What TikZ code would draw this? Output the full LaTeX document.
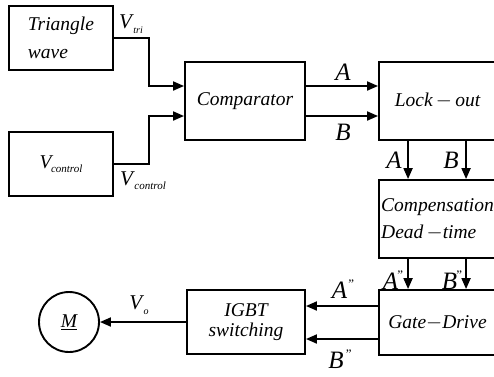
\documentclass[tikz,border=0pt]{standalone}
\usepackage{fontspec}
\setmainfont{Liberation Serif}
\usetikzlibrary{arrows.meta,calc}

\newcommand{\vsub}[2][11]{\textit{V}\kern-0.5pt\raisebox{-0.45ex}{\fontsize{#1}{#1}\selectfont\textit{#2}}}
\newcommand{\dq}{\raisebox{0.9ex}{\fontsize{13}{13}\selectfont\upshape"}}

\tikzset{
  blk/.style={draw, line width=1.9pt, inner sep=1pt,
    font=\fontsize{19.5}{22}\selectfont\itshape},
  sig/.style={line width=1.9pt, -{Triangle[length=11pt,width=9pt]}},
  lbl/.style={inner sep=0pt, font=\fontsize{25}{25}\selectfont\itshape},
  vlbl/.style={inner sep=0pt, font=\fontsize{21}{21}\selectfont},
}

\begin{document}
\begin{tikzpicture}[x=1pt,y=-1pt]
  \useasboundingbox (0,0) rectangle (494,376);
  \clip (0,0) rectangle (494,376);

  % blocks
  \node[blk, minimum width=104, minimum height=64, align=left] (tri) at (61,38)
    {Triangle\\[6pt]wave};
  \node[blk, minimum width=104, minimum height=64] (ctrl) at (61,164)
    {\vsub{control}};
  \node[blk, minimum width=120, minimum height=78] (comp) at (245,101) {Comparator};
  \node[blk, minimum width=117, minimum height=78] (lock) at (437.5,101) {Lock\,$-$\,out};
  \node[blk, minimum width=117, minimum height=78, align=left] (dead) at (437.5,219)
    {Compensation\\[5pt]Dead\,$-$time};
  \node[blk, minimum width=117, minimum height=65] (gate) at (437.5,322.5) {Gate$-$Drive};
  \node[blk, minimum width=118, minimum height=64, align=center] (igbt) at (246,322)
    {IGBT\\[-2pt]switching};
  \node[blk, circle, minimum size=60] (motor) at (69,322) {\underline{M}};

  % connectors
  \draw[sig] (tri.east) -- ++(35,0) |- ($(comp.west)+(0,-15)$);
  \draw[sig] (ctrl.east) -- ++(35,0) |- ($(comp.west)+(0,15)$);
  \draw[sig] ($(comp.east)+(0,-15)$) -- ($(lock.west)+(0,-15)$);
  \draw[sig] ($(comp.east)+(0,15)$) -- ($(lock.west)+(0,15)$);
  \draw[sig] ($(lock.south west)+(30,0)$) -- ($(dead.north west)+(30,0)$);
  \draw[sig] ($(lock.south west)+(88,0)$) -- ($(dead.north west)+(88,0)$);
  \draw[sig] ($(dead.south west)+(30,0)$) -- ($(gate.north west)+(30,0)$);
  \draw[sig] ($(dead.south west)+(88,0)$) -- ($(gate.north west)+(88,0)$);
  \draw[sig] ($(gate.west)+(0,-16.5)$) -- ($(igbt.east)+(0,-16)$);
  \draw[sig] ($(gate.west)+(0,16.5)$) -- ($(igbt.east)+(0,17)$);
  \draw[sig] (igbt.west) -- (motor.east);

  % labels
  \node[vlbl] (vtri) at (131,24) {\vsub[10]{tri}};
  \node[vlbl] (vctl) at (143,181) {\vsub{control}};
  \node[lbl] (la1) at (343,72) {A};
  \node[lbl] (lb1) at (343,132) {B};
  \node[lbl] (la2) at (394,160) {A};
  \node[lbl] (lb2) at (451,160) {B};
  \node[lbl] (la3) at (393,280) {A\kern-1pt\dq};
  \node[lbl] (lb3) at (452,280) {B\kern-1pt\dq};
  \node[lbl] (la4) at (343,289) {A\kern1pt\dq};
  \node[lbl] (lb4) at (340,359) {B\kern2pt\dq};
  \node[vlbl] (vo) at (139,305) {\vsub[10]{o}};
\end{tikzpicture}
\end{document}
